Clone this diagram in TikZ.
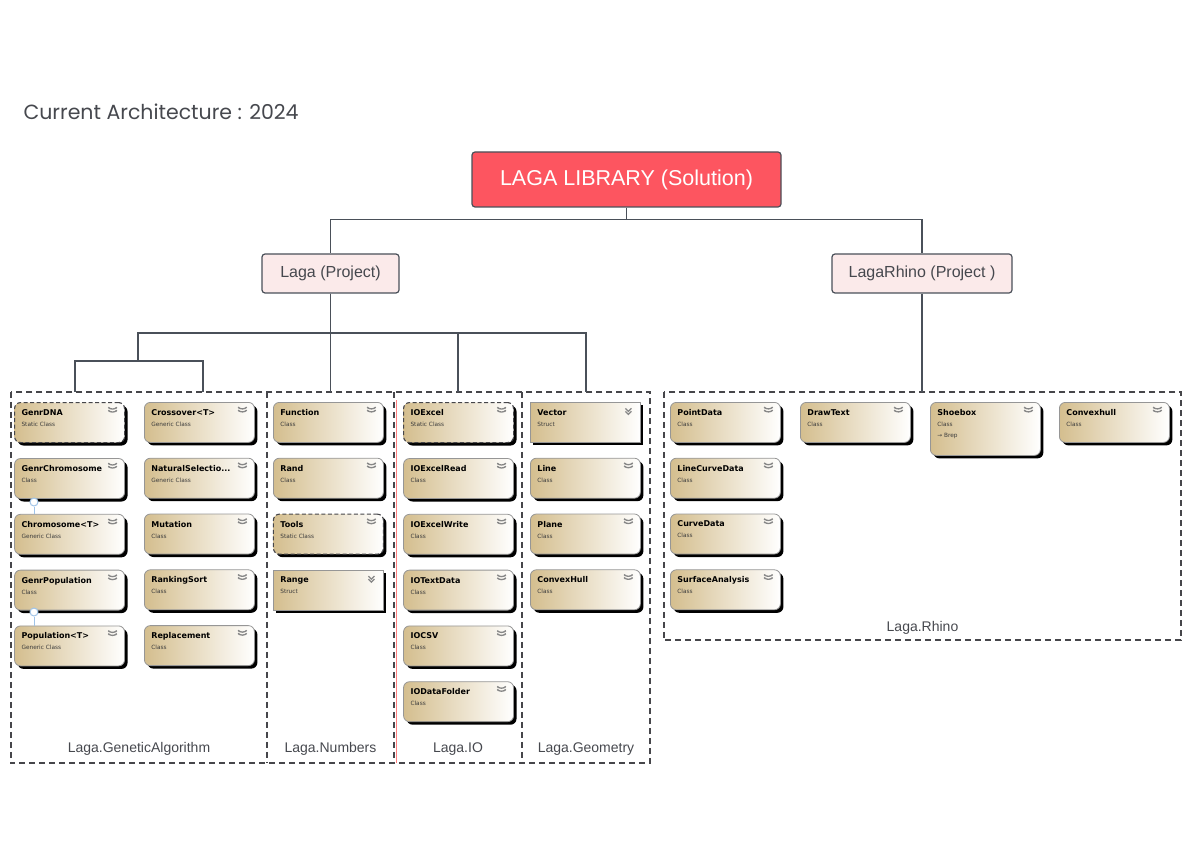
\documentclass[tikz,border=0pt]{standalone}
\usepackage{fontspec}
\setmainfont{Liberation Sans}
\newfontfamily\clsfont{DejaVu Sans}
\newfontfamily\titlefont{Poppins}
\usepackage{tikz}
\usetikzlibrary{positioning,shadows}

\definecolor{lineC}{RGB}{74,80,89}
\definecolor{frameC}{RGB}{70,70,74}
\definecolor{textC}{RGB}{70,72,78}
\definecolor{solRed}{RGB}{253,85,96}
\definecolor{projPink}{RGB}{251,234,234}
\definecolor{clsTan}{RGB}{212,190,142}
\definecolor{clsBorder}{RGB}{150,150,150}
\definecolor{clsSub}{RGB}{60,60,60}
\definecolor{chevC}{RGB}{135,135,135}
\definecolor{lollyC}{RGB}{160,196,232}

% class box text: title, kind
\newcommand{\clstext}[3][26pt]{\parbox[t][#1][t]{96pt}{\clsfont\fontsize{8}{11}\selectfont\textbf{#2}\\{\fontsize{5.8}{11}\selectfont\color{clsSub}#3}}}

\begin{document}
\begin{tikzpicture}[x=1pt,y=-1pt,
	conn/.style={draw=lineC,line width=1.8pt},
	dashes/.style={draw=frameC,line width=1.7pt,dash pattern=on 6pt off 4pt},
	frame/.style={inner sep=0pt},
	flabel/.style={text=textC,font=\fontsize{14}{16}\selectfont,inner sep=2pt},
	proj/.style={draw=lineC,fill=projPink,rounded corners=3pt,line width=1.2pt,text=textC,font=\fontsize{16}{19}\selectfont},
	cls/.style={draw=clsBorder,line width=0.8pt,rounded corners=6pt,left color=clsTan,right color=white,
		minimum width=110pt,minimum height=40pt,inner xsep=6pt,inner ysep=7pt,anchor=north west,
		drop shadow={shadow xshift=3pt,shadow yshift=-3pt,opacity=1,fill=black},
		path picture={\draw[chevC,line width=1.3pt,solid]
			([xshift=-15pt,yshift=-6pt]path picture bounding box.north east) -- ++(3pt,-3pt) -- ++(3pt,3pt)
			([xshift=-15pt,yshift=-9pt]path picture bounding box.north east) -- ++(3pt,-3pt) -- ++(3pt,3pt);}},
	static/.style={cls,draw=frameC,line width=1.1pt,dash pattern=on 4pt off 2.5pt},
	struct/.style={cls,sharp corners},
	lolly/.style={circle,draw=lollyC,fill=white,line width=1pt,inner sep=0pt,minimum size=8pt},
	lollyline/.style={draw=lollyC,line width=1pt}]

	\useasboundingbox (0,0) rectangle (1191,842);

	\node[anchor=base west,text=textC,font=\titlefont\fontsize{20.5}{24}\selectfont] (title) at (20,120) {Current Architecture : 2024};

	\node[draw=lineC,fill=solRed,rounded corners=3pt,line width=1.2pt,text=white,
		minimum width=309pt,minimum height=55pt,font=\fontsize{21.5}{25}\selectfont] (sol) at (626.5,179.5) {LAGA LIBRARY (Solution)};
	\node[proj,minimum width=137pt,minimum height=39pt] (laga) at (330.5,273.5) {Laga (Project)};
	\node[proj,minimum width=180pt,minimum height=39pt] (rhino) at (922,273.5) {LagaRhino (Project )};

	% namespaces
	\node[frame,minimum width=256pt,minimum height=371pt] (fGA) at (139,577.5) {};
	\node[frame,minimum width=127pt,minimum height=371pt] (fNum) at (330.5,577.5) {};
	\node[frame,minimum width=128pt,minimum height=371pt] (fIO) at (458,577.5) {};
	\node[frame,minimum width=128pt,minimum height=371pt] (fGeo) at (586,577.5) {};
	\node[frame,minimum width=517pt,minimum height=248pt] (fRh) at (922.5,516) {};
	\draw[red!50,line width=0.4pt] ([xshift=2pt,yshift=-8pt]fIO.north west) -- ([xshift=2pt]fIO.south west);
	\draw[dashes] (fGA.north west) rectangle (fGeo.south east);
	\draw[dashes] (fNum.north west) -- (fNum.south west);
	\draw[dashes] (fIO.north west) -- (fIO.south west);
	\draw[dashes] (fGeo.north west) -- (fGeo.south west);
	\draw[dashes] (fRh.north west) rectangle (fRh.south east);

	\node[flabel,above=6pt of fGA.south] (lGA) {Laga.GeneticAlgorithm};
	\node[flabel,above=6pt of fNum.south] (lNum) {Laga.Numbers};
	\node[flabel,above=6pt of fIO.south] (lIO) {Laga.IO};
	\node[flabel,above=6pt of fGeo.south] (lGeo) {Laga.Geometry};
	\node[flabel,above=4pt of fRh.south] (lRh) {Laga.Rhino};

	% tree
	\coordinate (gaj) at (138,361);
	\coordinate (gaL) at (75,392);
	\coordinate (gaR) at (203,392);
	\draw[conn] (sol.south) -- ++(0,12) -| (laga.north);
	\draw[conn] (sol.south) -- ++(0,12) -| (rhino.north);
	\draw[conn] (laga.south) -- ++(0,39) -| (gaj);
	\draw[conn] (laga.south) -- ++(0,39) -| (fNum.north);
	\draw[conn] (laga.south) -- ++(0,39) -| (fIO.north);
	\draw[conn] (laga.south) -- ++(0,39) -| (fGeo.north);
	\draw[conn] (gaj) -| (gaL);
	\draw[conn] (gaj) -| (gaR);
	\draw[conn] (rhino.south) -- (rhino.south |- fRh.north);

	% Laga.GeneticAlgorithm
	\node[static] (dna) at (14,402) {\clstext{GenrDNA}{Static Class}};
	\node[cls,below=15pt of dna] (gchrom) {\clstext{GenrChromosome}{Class}};
	\node[cls,below=15pt of gchrom] (chrom) {\clstext{Chromosome<T>}{Generic Class}};
	\node[cls,below=15pt of chrom] (gpop) {\clstext{GenrPopulation}{Class}};
	\node[cls,below=15pt of gpop] (pop) {\clstext{Population<T>}{Generic Class}};
	\node[cls] (cross) at (144,402) {\clstext{Crossover<T>}{Generic Class}};
	\node[cls,below=15pt of cross] (natsel) {\clstext{NaturalSelectio...}{Generic Class}};
	\node[cls,below=15pt of natsel] (mut) {\clstext{Mutation}{Class}};
	\node[cls,below=15pt of mut] (rank) {\clstext{RankingSort}{Class}};
	\node[cls,below=15pt of rank] (repl) {\clstext{Replacement}{Class}};

	\node[lolly] (lp1) at (34,502) {};
	\draw[lollyline] (lp1.south) -- (lp1.south |- chrom.north);
	\node[lolly] (lp2) at (34,612) {};
	\draw[lollyline] (lp2.south) -- (lp2.south |- pop.north);

	% Laga.Numbers
	\node[cls] (func) at (273,402) {\clstext{Function}{Class}};
	\node[cls,below=15pt of func] (rand) {\clstext{Rand}{Class}};
	\node[static,below=15pt of rand] (tools) {\clstext{Tools}{Static Class}};
	\node[struct,below=15pt of tools] (range) {\clstext{Range}{Struct}};

	% Laga.IO
	\node[static] (xl) at (403,402) {\clstext{IOExcel}{Static Class}};
	\node[cls,below=15pt of xl] (xlr) {\clstext{IOExcelRead}{Class}};
	\node[cls,below=15pt of xlr] (xlw) {\clstext{IOExcelWrite}{Class}};
	\node[cls,below=15pt of xlw] (txt) {\clstext{IOTextData}{Class}};
	\node[cls,below=15pt of txt] (csv) {\clstext{IOCSV}{Class}};
	\node[cls,below=15pt of csv] (dfold) {\clstext{IODataFolder}{Class}};

	% Laga.Geometry
	\node[struct] (vec) at (530,402) {\clstext{Vector}{Struct}};
	\node[cls,below=15pt of vec] (line) {\clstext{Line}{Class}};
	\node[cls,below=15pt of line] (plane) {\clstext{Plane}{Class}};
	\node[cls,below=15pt of plane] (hull) {\clstext{ConvexHull}{Class}};

	% Laga.Rhino
	\node[cls] (pdata) at (670,402) {\clstext{PointData}{Class}};
	\node[cls,below=15pt of pdata] (lcdata) {\clstext{LineCurveData}{Class}};
	\node[cls,below=15pt of lcdata] (cdata) {\clstext{CurveData}{Class}};
	\node[cls,below=15pt of cdata] (surf) {\clstext{SurfaceAnalysis}{Class}};
	\node[cls] (dtext) at (800,402) {\clstext{DrawText}{Class}};
	\node[cls,minimum height=53pt] (shoe) at (930,402) {\clstext[39pt]{Shoebox}{Class\\→ Brep}};
	\node[cls] (rhull) at (1059,402) {\clstext{Convexhull}{Class}};
\end{tikzpicture}
\end{document}
